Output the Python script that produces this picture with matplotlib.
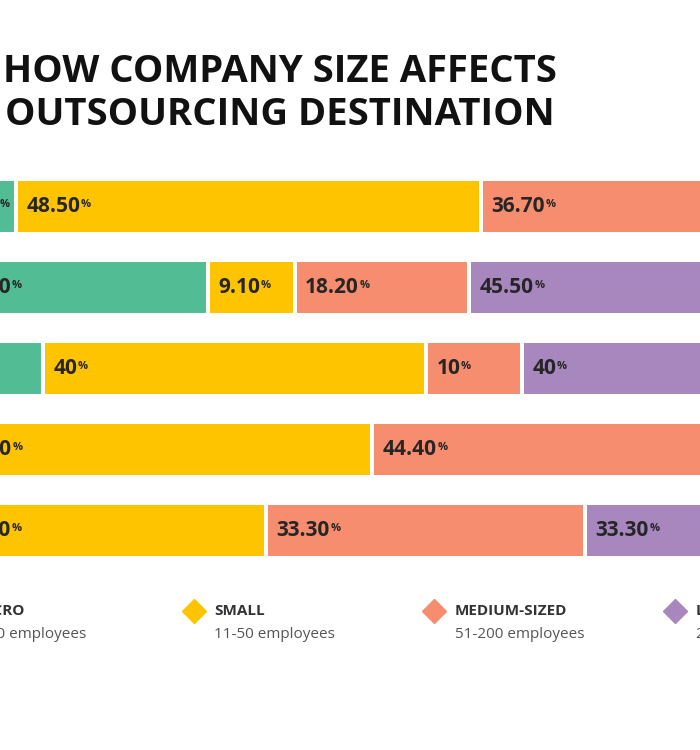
import matplotlib.pyplot as plt
from matplotlib import font_manager as fm
import numpy as np

# pick the first family that really has a bold face installed
family = 'DejaVu Sans'
for fam in ['Open Sans', 'Noto Sans', 'Lato', 'Roboto', 'Inter']:
    try:
        path = fm.findfont(fm.FontProperties(family=fam, weight='bold'),
                           fallback_to_default=False)
    except Exception:
        continue
    if 'bold' in path.lower():
        family = fam
        break
plt.rcParams['font.family'] = [family, 'DejaVu Sans']

# destination rows (their names are cut off in the picture, so they are not drawn)
destinations = ['Row 1', 'Row 2', 'Row 3', 'Row 4', 'Row 5']
micro = [7.2, 27.2, 10.0, 0.0, 0.0]
small = [48.5, 9.1, 40.0, 44.4, 33.3]
medium = [36.7, 18.2, 10.0, 44.4, 33.3]
large = [7.6, 45.5, 40.0, 11.2, 33.3]

sizes = ['MICRO', 'SMALL', 'MEDIUM-SIZED', 'LARGE']
size_notes = ['1-10 employees', '11-50 employees', '51-200 employees', '201+ employees']
colors = ['#52BD94', '#FFC400', '#F58D6E', '#A886BE']

title_lines = ['HOW COMPANY SIZE AFFECTS', 'OUTSOURCING DESTINATION']


def fmt(v):
    if v == int(v):
        return str(int(v))
    return f'{v:.2f}'


fig = plt.figure(figsize=(7, 7.5), dpi=100)

# the bars: the picture only shows a window of the 0-100% range
ax = fig.add_axes([0, 1 - 570.8 / 750, 1, 405 / 750])
ax.set_xlim(5.53, 78.6)
ax.set_ylim(len(destinations) - 0.5, -0.5)
ax.axis('off')

y = np.arange(len(destinations))
series = [micro, small, medium, large]
left = np.zeros(len(destinations))
for vals, col in zip(series, colors):
    vals = np.array(vals)
    ax.barh(y, vals, left=left, height=0.675, color=col,
            edgecolor='white', linewidth=2.9)
    for yi, (l, v) in enumerate(zip(left, vals)):
        if v <= 0:
            continue
        t = ax.annotate(fmt(v), xy=(l, yi), xytext=(7.5, 0),
                        textcoords='offset points', ha='left',
                        va='center', fontsize=15, fontweight='bold',
                        color='#262626', annotation_clip=False)
        ax.annotate('%', xy=(1, 1), xycoords=t, xytext=(0.5, -2),
                    textcoords='offset points', ha='left', va='top',
                    fontsize=8, fontweight='bold', color='#262626')
    left = left + vals

# title
fig.text(280 / 700, 1 - 82 / 750, title_lines[0], ha='center',
         va='baseline', fontsize=27.5, fontweight='bold', color='#111111')
fig.text(280 / 700, 1 - 125 / 750, title_lines[1], ha='center',
         va='baseline', fontsize=27.5, fontweight='bold', color='#111111')

# legend along the bottom
leg = fig.add_axes([0, 0, 1, 1])
leg.set_xlim(0, 700)
leg.set_ylim(750, 0)
leg.axis('off')
first_x, step = -47, 240.5
for i, (name, note, col) in enumerate(zip(sizes, size_notes, colors)):
    x = first_x + i * step
    leg.plot(x, 611, marker='D', markersize=12, color=col,
             linestyle='none', clip_on=False)
    leg.text(x + 21, 611, name, ha='left', va='center', fontsize=11,
             fontweight='bold', color='#333333')
    leg.text(x + 21, 634, note, ha='left', va='center', fontsize=11,
             color='#555555')

fig.savefig('out.png', dpi=100, facecolor='white')
